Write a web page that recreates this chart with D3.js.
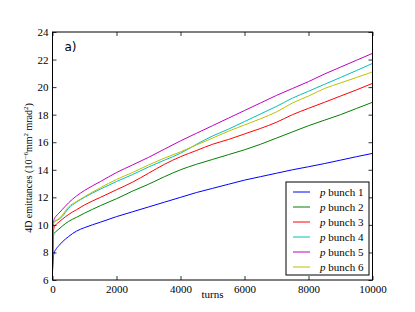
<!DOCTYPE html>
<html>
<head>
<meta charset="utf-8">
<script src="https://cdn.jsdelivr.net/npm/d3@7"></script>
<style>
  body { margin: 0; background: #fff; }
  svg text { font-family: "Liberation Serif", "DejaVu Serif", serif; }
</style>
</head>
<body>
<svg id="chart" width="415" height="312"></svg>
<script>
var turns = [0, 20, 50, 100, 200, 300, 500, 750, 1000, 1500, 2000, 2500, 3000, 3500, 4000, 4500, 5000, 5500, 6000, 6500, 7000, 7500, 8000, 8500, 9000, 9500, 10000];

var bunch1 = [6.6, 7.5, 7.95, 8.2, 8.5, 8.75, 9.15, 9.55, 9.8, 10.2, 10.6, 10.95, 11.3, 11.65, 12.0, 12.35, 12.65, 12.95, 13.25, 13.5, 13.75, 14.0, 14.22, 14.45, 14.7, 14.95, 15.19];
var bunch2 = [6.6, 8.8, 9.4, 9.5, 9.7, 9.9, 10.25, 10.55, 10.85, 11.4, 11.9, 12.45, 12.95, 13.5, 14.0, 14.4, 14.75, 15.1, 15.45, 15.85, 16.3, 16.75, 17.2, 17.6, 18.0, 18.45, 18.9];
var bunch3 = [6.6, 9.2, 9.8, 10.0, 10.2, 10.4, 10.75, 11.1, 11.45, 12.0, 12.55, 13.1, 13.75, 14.4, 14.95, 15.4, 15.85, 16.2, 16.6, 17.0, 17.45, 18.0, 18.46, 18.9, 19.35, 19.8, 20.27];
var bunch4 = [6.6, 9.8, 10.2, 10.3, 10.4, 10.6, 11.2, 11.65, 12.0, 12.6, 13.15, 13.65, 14.2, 14.7, 15.2, 15.85, 16.45, 16.95, 17.5, 18.05, 18.6, 19.2, 19.7, 20.2, 20.7, 21.2, 21.72];
var bunch5 = [6.6, 10.0, 10.4, 10.6, 10.85, 11.1, 11.6, 12.1, 12.5, 13.15, 13.8, 14.35, 14.9, 15.5, 16.1, 16.65, 17.2, 17.75, 18.3, 18.85, 19.4, 19.9, 20.4, 20.95, 21.45, 21.95, 22.45];
var bunch6 = [6.6, 10.0, 10.2, 10.3, 10.45, 10.7, 11.3, 11.7, 12.05, 12.7, 13.3, 13.8, 14.35, 14.85, 15.3, 15.8, 16.3, 16.8, 17.25, 17.7, 18.2, 18.85, 19.35, 19.9, 20.3, 20.7, 21.1];

var seriesNames = ["bunch 1", "bunch 2", "bunch 3", "bunch 4", "bunch 5", "bunch 6"];
var seriesColors = ["#0000ff", "#008000", "#ff0000", "#00bfbf", "#bf00bf", "#bfbf00"];
var xTicks = [0, 2000, 4000, 6000, 8000, 10000];
var yTicks = [6, 8, 10, 12, 14, 16, 18, 20, 22, 24];

var svg = d3.select("#chart"),
  margin = {top: 32, right: 42.5, bottom: 32, left: 52.5},
  width = 415 - margin.left - margin.right,
  height = 312 - margin.top - margin.bottom,
  g = svg.append("g").attr("transform", "translate(" + margin.left + "," + margin.top + ")");

var x = d3.scaleLinear().domain([0, 10000]).range([0, width]),
    y = d3.scaleLinear().domain([6, 24]).range([height, 0]);

var data = [bunch1, bunch2, bunch3, bunch4, bunch5, bunch6].map(function(vals, i) {
  return {id: seriesNames[i], color: seriesColors[i], values: vals.map(function(v, j) { return {t: turns[j], v: v}; })};
});

var line = d3.line()
  .curve(d3.curveMonotoneX)
  .x(function(d) { return x(d.t); })
  .y(function(d) { return y(d.v); });

g.append("defs").append("clipPath").attr("id", "clip")
  .append("rect").attr("width", width).attr("height", height);

g.append("g").attr("clip-path", "url(#clip)")
  .selectAll("path").data(data).enter().append("path")
  .attr("d", function(d) { return line(d.values); })
  .attr("fill", "none")
  .attr("stroke", function(d) { return d.color; })
  .attr("stroke-width", 1);

// axes, ticks pointing inward on all four sides
function styleAxis(sel) {
  sel.attr("font-family", null);
  sel.select(".domain").remove();
  sel.selectAll(".tick line").attr("stroke", "#000").attr("stroke-width", 0.8);
  sel.selectAll("text").attr("font-size", 11).attr("fill", "#000");
}

g.append("g").attr("transform", "translate(0," + height + ")")
  .call(d3.axisBottom(x).tickValues(xTicks).tickSize(-4).tickPadding(5).tickFormat(d3.format("d")))
  .call(styleAxis);
g.append("g")
  .call(d3.axisTop(x).tickValues(xTicks).tickSize(-4).tickFormat(""))
  .call(styleAxis);
g.append("g")
  .call(d3.axisLeft(y).tickValues(yTicks).tickSize(-4).tickPadding(4).tickFormat(d3.format("d")))
  .call(styleAxis);
g.append("g").attr("transform", "translate(" + width + ",0)")
  .call(d3.axisRight(y).tickValues(yTicks).tickSize(-4).tickFormat(""))
  .call(styleAxis);

g.append("rect")
  .attr("width", width).attr("height", height)
  .attr("fill", "none").attr("stroke", "#000").attr("stroke-width", 1);

g.append("text")
  .attr("x", 12).attr("y", 19)
  .style("font-family", '"DejaVu Sans", sans-serif')
  .attr("font-size", 12)
  .text("a)");

svg.append("text")
  .attr("x", margin.left + width / 2).attr("y", 298)
  .attr("text-anchor", "middle").attr("font-size", 11)
  .text("turns");

var yl = svg.append("text")
  .attr("transform", "translate(32," + (margin.top + height / 2 + 12) + ") rotate(-90)")
  .attr("text-anchor", "middle").attr("font-size", 10);
yl.append("tspan").text("4D emittances (10");
yl.append("tspan").attr("dy", -4).attr("font-size", 7).text("\u22126");
yl.append("tspan").attr("dy", 4).text("mm");
yl.append("tspan").attr("dy", -4).attr("font-size", 7).text("2");
yl.append("tspan").attr("dy", 4).text(" mrad");
yl.append("tspan").attr("dy", -4).attr("font-size", 7).text("2");
yl.append("tspan").attr("dy", 4).text(")");

// legend
var lg = g.append("g").attr("transform", "translate(" + (width - 86.5) + "," + (height - 98) + ")");
lg.append("rect").attr("width", 83).attr("height", 93)
  .attr("fill", "#fff").attr("stroke", "#000").attr("stroke-width", 1);
var items = lg.selectAll(".item").data(data).enter().append("g")
  .attr("transform", function(d, i) { return "translate(0," + (10 + i * 15) + ")"; });
items.append("line").attr("x1", 7).attr("x2", 24)
  .attr("stroke", function(d) { return d.color; }).attr("stroke-width", 1);
var lt = items.append("text").attr("x", 34).attr("y", 4).attr("font-size", 11);
lt.append("tspan").attr("font-style", "italic").text("p");
lt.append("tspan").text(function(d) { return " " + d.id; });
</script>
</body>
</html>
